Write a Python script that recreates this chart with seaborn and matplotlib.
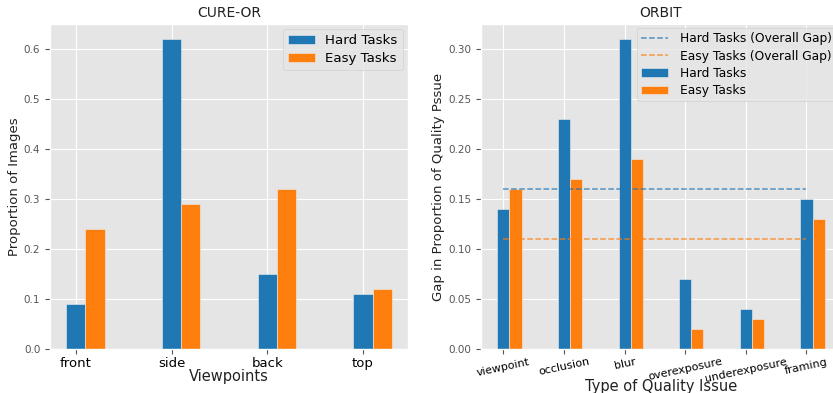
import matplotlib
matplotlib.use("Agg")
import matplotlib.pyplot as plt
import seaborn as sns
import pandas as pd
import numpy as np

# CURE-OR: proportion of images per viewpoint
cure_viewpoints = ["front", "side", "back", "top"]
cure_hard = [0.09, 0.62, 0.15, 0.11]
cure_easy = [0.24, 0.29, 0.32, 0.12]

# ORBIT: gap in proportion of each quality issue
orbit_issues = ["viewpoint", "occlusion", "blur", "overexposure", "underexposure", "framing"]
orbit_hard = [0.14, 0.23, 0.31, 0.07, 0.04, 0.15]
orbit_easy = [0.16, 0.17, 0.19, 0.02, 0.03, 0.13]
orbit_hard_overall = 0.16
orbit_easy_overall = 0.11

task_labels = ["Hard Tasks", "Easy Tasks"]
colors = ["#1f77b4", "#ff7f0e"]
bar_width = 0.2

plt.style.use("ggplot")
sns.set_palette(colors)


def long_frame(cats, hard, easy):
    n = len(cats)
    pos = list(np.arange(n)) + list(np.arange(n) + bar_width)
    return pd.DataFrame({
        "pos": pos,
        "value": list(hard) + list(easy),
        "task": [task_labels[0]] * n + [task_labels[1]] * n,
    })


def draw_bars(ax, cats, hard, easy):
    df = long_frame(cats, hard, easy)
    sns.barplot(data=df, x="pos", y="value", hue="task", hue_order=task_labels,
                palette=colors, native_scale=True, dodge=False, width=1.0,
                saturation=1, edgecolor="#EEEEEE", linewidth=0.4,
                legend=False, ax=ax)
    # same 5% margins matplotlib would apply around the bars
    lo = -bar_width / 2
    hi = len(cats) - 1 + 1.5 * bar_width
    pad = 0.05 * (hi - lo)
    ax.set_xlim(lo - pad, hi + pad)
    ax.set_xticks(np.arange(len(cats)))
    ax.tick_params(axis="y", labelsize=7.5, colors="#555555")
    ax.tick_params(axis="x", colors="#555555", labelcolor="black", pad=2)


fig = plt.figure(figsize=(8.33, 3.93), dpi=100)
W, H = 833, 393
ax1 = fig.add_axes([50 / W, 44 / H, 358 / W, 325 / H])
ax2 = fig.add_axes([481 / W, 44 / H, 360 / W, 325 / H])

# Left panel
draw_bars(ax1, cure_viewpoints, cure_hard, cure_easy)
ax1.set_xticklabels(cure_viewpoints, fontsize=9.5)
ax1.set_ylim(0, max(cure_hard + cure_easy) * 1.05)
ax1.set_title("CURE-OR", fontsize=10, color="#222222", pad=5)
ax1.set_xlabel("Viewpoints", fontsize=10.5, color="#222222")
ax1.xaxis.set_label_coords(0.5, -0.062)
ax1.set_ylabel("Proportion of Images", fontsize=9.5, color="#222222", labelpad=2)
ax1.legend(ax1.containers, task_labels, fontsize=9.6, loc="upper left",
           bbox_to_anchor=((283 - 50) / 358, (349 - 29) / 325), borderaxespad=0,
           handlelength=2.0, handleheight=0.7, borderpad=0.4, labelspacing=0.35,
           handletextpad=0.75)

# Right panel
draw_bars(ax2, orbit_issues, orbit_hard, orbit_easy)
ax2.set_xticklabels(orbit_issues, fontsize=8, rotation=12)
ax2.set_ylim(0, max(orbit_hard + orbit_easy) * 1.05)
l_hard = ax2.hlines(orbit_hard_overall, 0, len(orbit_issues) - 1, colors=colors[0],
                    linestyles="--", linewidth=1.1, alpha=0.75)
l_easy = ax2.hlines(orbit_easy_overall, 0, len(orbit_issues) - 1, colors=colors[1],
                    linestyles="--", linewidth=1.1, alpha=0.75)
ax2.set_title("ORBIT", fontsize=10, color="#222222", pad=5)
ax2.set_xlabel("Type of Quality Issue", fontsize=10.5, color="#222222")
ax2.xaxis.set_label_coords(0.5, -0.092)
ax2.set_ylabel("Gap in Proportion of Quality Pssue", fontsize=9.5, color="#222222", labelpad=2)
ax2.legend([l_hard, l_easy, ax2.containers[0], ax2.containers[1]],
           ["Hard Tasks (Overall Gap)", "Easy Tasks (Overall Gap)"] + task_labels,
           fontsize=8.8, loc="upper left",
           bbox_to_anchor=((637 - 481) / 360, (349 - 28) / 325), borderaxespad=0,
           handlelength=2.2, handleheight=0.7, borderpad=0.35, labelspacing=0.35,
           handletextpad=1.0)

fig.savefig("out.png", dpi=100)
